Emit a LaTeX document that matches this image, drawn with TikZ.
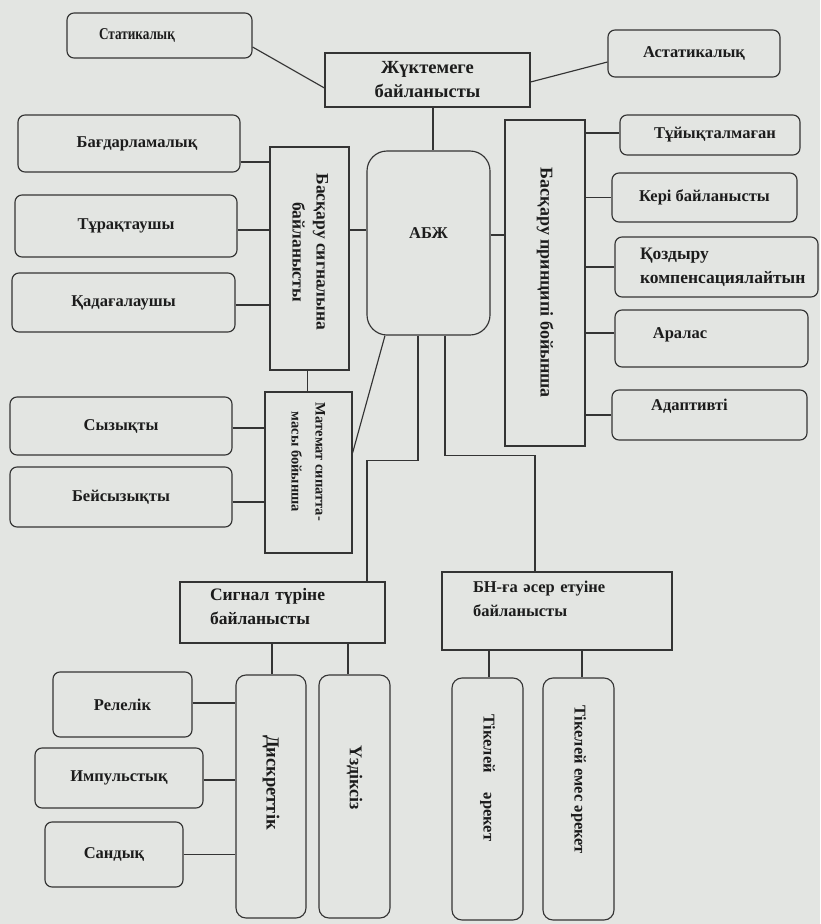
\documentclass[tikz,border=0pt]{standalone}
\usepackage{fontspec}
\setmainfont{Liberation Serif}
\definecolor{paper}{RGB}{227,229,226}
\definecolor{ink}{RGB}{52,52,52}
\definecolor{txt}{RGB}{28,28,28}
\newcommand\mylink[3]{\coordinate (tmpA) at ([yshift=#3]#1.east); \draw[conn] (tmpA) -- (tmpA -| #2.west);}
\newcommand\mylinkR[3]{\coordinate (tmpA) at ([yshift=#3]#2.west); \draw[conn] (tmpA -| #1.east) -- (tmpA);}
\newcommand\myvlink[3]{\coordinate (tmpB) at ([xshift=#3]#1.south); \draw[conn] (tmpB) -- (tmpB |- #2.north);}
\newcommand\vtext[1]{\rotatebox{-90}{#1}}
\tikzset{
  fs/.style={font=\bfseries\fontsize{#1}{24}\selectfont},
  base/.style={draw=ink, line width=1.15pt, inner sep=0pt, text=txt, fs=16.5, anchor=center},
  rbox/.style={base, rounded corners=7pt},
  sbox/.style={base},
  bigbox/.style={base, rounded corners=20pt},
  vbox/.style={base, rounded corners=10pt},
  conn/.style={draw=ink, line width=1.15pt},
}
\begin{document}
\begin{tikzpicture}[x=1pt,y=-1pt]
\fill[paper] (0,0) rectangle (820,924);
\useasboundingbox (0,0) rectangle (820,924);
% top
\node[rbox, minimum width=185pt, minimum height=45pt] (stat) at (159.5,35.5) {\scalebox{0.8}[1]{Статикалық}\hspace*{45pt}};
\node[sbox, fs=18.5, minimum width=205pt, minimum height=54pt, align=center] (zhuk) at (427.5,80) {Жүктемеге\\байланысты};
\node[rbox, minimum width=172pt, minimum height=47pt] (ast) at (694,53.5) {Астатикалық};
% left column
\node[rbox, minimum width=222pt, minimum height=57pt] (bag) at (129,143.5) {\hspace*{16pt}Бағдарламалық};
\node[rbox, minimum width=222pt, minimum height=62pt] (tur) at (126,226) {Тұрақтаушы};
\node[rbox, minimum width=223pt, minimum height=59pt] (kad) at (123.5,302.5) {Қадағалаушы};
\node[rbox, minimum width=222pt, minimum height=58pt] (syz) at (121,426) {Сызықты};
\node[rbox, minimum width=222pt, minimum height=60pt] (beis) at (121,497) {Бейсызықты};
% middle
\node[sbox, fs=17.5, minimum width=79pt, minimum height=223pt] (bsig) at (309.5,258.5)
  {\vtext{\begin{tabular}{@{}c@{}}Басқару сигналына\\байланысты\end{tabular}\hspace*{13pt}}};
\node[bigbox, minimum width=123pt, minimum height=184pt] (abzh) at (428.5,243) {\raisebox{20pt}{АБЖ}};
\node[sbox, fs=18, minimum width=80pt, minimum height=326pt] (bpr) at (545,283) {\vtext{Басқару принципі бойынша}};
\node[sbox, fs=14.5, minimum width=87pt, minimum height=161pt] (mat) at (308.5,472.5)
  {\vtext{\begin{tabular}{@{}c@{}}Математ сипатта-\\масы бойынша\end{tabular}\hspace*{21pt}}};
% right column
\node[rbox, minimum width=180pt, minimum height=40pt] (tuy) at (710,135) {\hspace*{10pt}Тұйықталмаған};
\node[rbox, minimum width=185pt, minimum height=49pt] (keri) at (704.5,197.5) {Кері байланысты};
\node[rbox, fs=17.5, minimum width=203pt, minimum height=60pt, text width=153pt, align=left] (koz) at (716.5,267) {Қоздыру\\компенсациялайтын};
\node[rbox, minimum width=193pt, minimum height=57pt] (aral) at (711.5,338.5) {\raisebox{11pt}{Аралас}\hspace*{63pt}};
\node[rbox, minimum width=195pt, minimum height=50pt] (adapt) at (709.5,415) {\raisebox{20pt}{Адаптивті}\hspace*{40pt}};
% bottom
\node[sbox, fs=17.5, minimum width=205pt, minimum height=61pt, text width=145pt, align=left] (sig) at (282.5,612.5) {Сигнал түріне\\байланысты\\[-12pt]\mbox{}};
\node[sbox, minimum width=230pt, minimum height=78pt, text width=168pt, align=left] (bn) at (557,611) {БН-ға әсер етуіне\\байланысты\\[0pt]\mbox{}};
\node[vbox, fs=18.5, minimum width=70pt, minimum height=243pt] (disk) at (271,796.5) {\vtext{Дискреттік\hspace*{28pt}}};
\node[vbox, fs=18, minimum width=71pt, minimum height=243pt] (uzd) at (354.5,796.5) {\vtext{Үздіксіз\hspace*{37pt}}};
\node[rbox, minimum width=139pt, minimum height=65pt] (rel) at (122.5,704.5) {Релелік};
\node[rbox, minimum width=168pt, minimum height=60pt] (imp) at (119,778) {Импульстық};
\node[rbox, minimum width=138pt, minimum height=65pt] (san) at (114,854.5) {Сандық};
\node[vbox, minimum width=71pt, minimum height=242pt] (tik) at (487.5,799) {\vtext{Тікелей\hspace{16pt} әрекет\hspace*{42pt}}};
\node[vbox, minimum width=71pt, minimum height=242pt] (tike) at (578.5,799) {\vtext{Тікелей емес әрекет\hspace*{38pt}}};
% connectors
\draw[conn] ([yshift=-11.5pt]stat.east) -- ([yshift=-8pt]zhuk.west);
\draw[conn] ([yshift=-2pt]zhuk.east) -- ([yshift=-8.5pt]ast.west);
\myvlink{zhuk}{abzh}{5.5pt}
\mylink{bag}{bsig}{-18.5pt}
\mylink{tur}{bsig}{-4pt}
\mylink{kad}{bsig}{-2.5pt}
\mylink{bsig}{abzh}{28.5pt}
\mylink{abzh}{bpr}{8pt}
\mylinkR{bpr}{tuy}{2pt}
\mylinkR{bpr}{keri}{0pt}
\mylinkR{bpr}{koz}{0pt}
\mylinkR{bpr}{aral}{5.5pt}
\mylinkR{bpr}{adapt}{0pt}
\myvlink{bsig}{mat}{-2pt}
\mylink{syz}{mat}{-2pt}
\mylink{beis}{mat}{-5pt}
\draw[conn] ([yshift=19.5pt]mat.east) -- ([xshift=-43.5pt]abzh.south);
\draw[conn] ([xshift=-10.5pt]abzh.south) -- ++(0,125) -| ([xshift=84.5pt]sig.north);
\draw[conn] ([xshift=16.5pt]abzh.south) -- ++(0,120) -| ([xshift=-22pt]bn.north);
\myvlink{sig}{disk}{-10.5pt}
\myvlink{sig}{uzd}{65.5pt}
\mylink{rel}{disk}{1.5pt}
\mylink{imp}{disk}{-2pt}
\mylink{san}{disk}{0pt}
\myvlink{bn}{tik}{-68pt}
\myvlink{bn}{tike}{25pt}
\end{tikzpicture}
\end{document}
